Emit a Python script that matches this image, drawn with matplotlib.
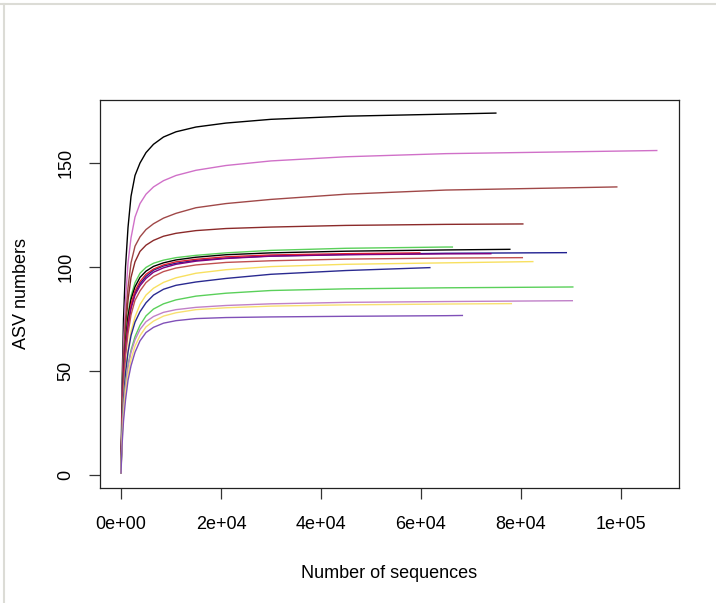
import matplotlib
matplotlib.use("Agg")
import matplotlib.pyplot as plt
from matplotlib.lines import Line2D

plt.rcParams['font.family'] = ['Liberation Sans', 'DejaVu Sans']

# data: rarefaction curves
# shared sample sizes, then the last point of each curve
knots = [1, 200, 500, 900, 1400, 2000, 2800, 3800, 5000, 6500, 8500,
         11000, 15000, 21000, 30000, 45000, 65000]

black1 = [1, 42, 75, 100, 119, 134, 144, 150, 155, 159, 162.5, 165, 167.3, 169.2, 171, 172.5, 173.5]
orchid = [1, 35, 62, 84, 102, 114, 124, 130.5, 135, 138.5, 141.5, 144, 146.5, 148.8, 151, 153, 154.5]
brown1 = [1, 32, 56, 75, 90, 102, 110, 114.5, 118, 120.8, 123.5, 125.8, 128.5, 130.5, 132.5, 135, 137]
brown2 = [1, 30, 52, 70, 84, 95, 102.5, 107.5, 110.5, 112.8, 114.8, 116.2, 117.5, 118.5, 119.2, 120, 120.5]
green1 = [1, 28, 49, 65, 77, 86, 92.5, 97, 99.8, 101.8, 103.3, 104.5, 105.6, 106.8, 108, 109, 109.6]
black2 = [1, 28, 49, 64, 76, 84.5, 90.5, 95, 98, 100.3, 102, 103.4, 104.7, 105.9, 106.8, 107.6, 108.2]
navy1 = [1, 26, 46, 61, 72, 81, 87.5, 92, 95.5, 98.5, 100.5, 101.8, 103.2, 104.3, 105.3, 106, 106.6]
red1 = [1, 27, 47, 62, 73, 82, 88.5, 93, 96.5, 99, 101, 102.5, 103.7, 104.9, 105.8, 106.4]
magenta = [1, 25, 45, 60, 71, 80, 86.5, 91, 94.5, 97.5, 99.6, 101.3, 102.8, 104.1, 105.2, 105.9, 106.3]
red2 = [1, 24, 43, 57, 68, 77, 84, 88.5, 92.5, 95.5, 97.8, 99.5, 101, 102.2, 103, 103.8, 104.3]
yellow1 = [1, 20, 37, 50, 60, 69, 76, 82, 86.5, 89.8, 92.6, 94.8, 97, 98.7, 100.2, 101.3, 102]
navy2 = [1, 20, 36, 49, 59, 67, 73.5, 78.5, 82.8, 86.5, 89.3, 91.2, 92.8, 94.5, 96.5, 98.3]
green2 = [1, 18, 33, 44, 53, 60, 66.5, 72, 76.5, 79.8, 82.3, 84.2, 86, 87.4, 88.7, 89.5, 90]
plum = [1, 18, 32, 43, 52, 59, 65, 70, 73.7, 76.2, 78.2, 79.5, 80.6, 81.5, 82.3, 83, 83.4]
yellow2 = [1, 16, 29, 40, 48.5, 55.5, 62, 67, 71.2, 74, 76.4, 78, 79.5, 80.4, 81.2, 81.8, 82.2]
purple = [1, 14, 26, 36, 45.5, 52.5, 59, 64.5, 68.5, 71, 73, 74.2, 75.2, 75.7, 76, 76.3, 76.6]

curves = [black1, orchid, brown1, brown2, green1, black2, navy1, red1,
          magenta, red2, yellow1, navy2, green2, plum, yellow2, purple]
end_x = [75000, 107200, 99200, 80400, 66300, 77800, 89100, 59800,
         74000, 80300, 82400, 61800, 90400, 90300, 78100, 68300]
end_y = [174, 156, 138.5, 120.7, 109.6, 108.5, 106.9, 106.8,
         106.4, 104.5, 102.6, 99.7, 90.4, 83.8, 82.4, 76.7]
colors = ['black', '#d070c8', '#a04848', '#8b2a2a', '#5ad05a', 'black',
          '#202090', '#e02030', '#800080', '#c05050', '#f8e060', '#2a2a90',
          '#5ad05a', '#c080c8', '#f8e070', '#8050b8']

xticks = [0, 20000, 40000, 60000, 80000, 100000]
xtick_labels = ['0e+00', '2e+04', '4e+04', '6e+04', '8e+04', '1e+05']
yticks = [0, 50, 100, 150]

fig = plt.figure(figsize=(7.16, 6.03), dpi=100)
ax = fig.add_axes([0.139, 0.1907, 0.809, 0.6435])

for ys, ex, ey, c in zip(curves, end_x, end_y, colors):
    xs = knots[:len(ys)] + [ex]
    ax.plot(xs, ys + [ey], color=c, lw=1.0)

ax.set_xlim(-4300, 111600)
ax.set_ylim(-6.25, 180.3)
ax.set_xticks(xticks)
ax.set_xticklabels(xtick_labels)
ax.set_yticks(yticks)
ax.set_yticklabels([str(v) for v in yticks], rotation=90, va='center')
ax.tick_params(length=8, width=0.9, color='#333333', labelsize=13)
ax.tick_params(axis='x', pad=12)
ax.tick_params(axis='y', pad=10)
for s in ax.spines.values():
    s.set_linewidth(0.9)
    s.set_color('#222222')

ax.set_xlabel('Number of sequences', fontsize=13, labelpad=23.5)
ax.set_ylabel('ASV numbers', fontsize=13, labelpad=20)

# light frame at the top and left edge of the screenshot
fig.add_artist(Line2D([0, 1], [0.994, 0.994], color='#dcdcd6', lw=1.5))
fig.add_artist(Line2D([0.006, 0.006], [0, 0.994], color='#dcdcd6', lw=1.5))

fig.savefig('out.png', dpi=100)
